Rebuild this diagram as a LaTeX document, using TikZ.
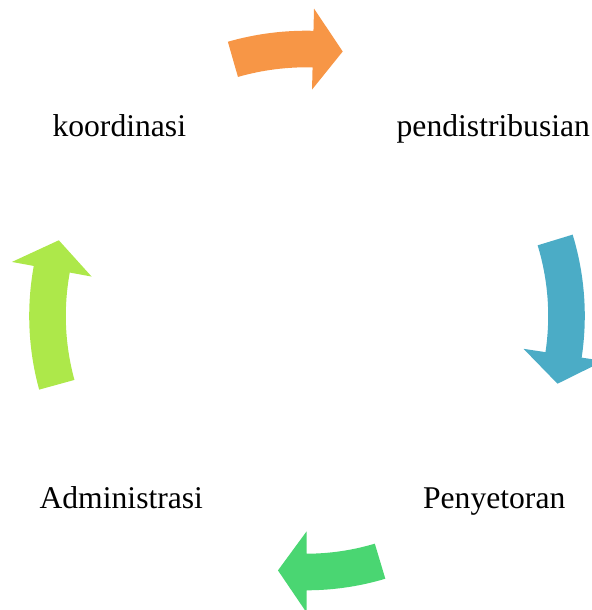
\documentclass[tikz,border=0pt]{standalone}
\usepackage{fontspec}
\setmainfont{Liberation Serif}
\definecolor{arrowOrange}{HTML}{F79646}
\definecolor{arrowBlue}{HTML}{4BACC6}
\definecolor{arrowGreen}{HTML}{4AD672}
\definecolor{arrowLime}{HTML}{ADE84A}
% curved block arrow round the centre: colour, radius, tail angle, head base angle, tip angle
\newcommand{\cyclearrow}[5]{%
	\fill[#1] (#3:{#2+18.3}) arc[start angle=#3, end angle=#4, radius={#2+18.3}]
		-- (#4:{#2+40.5}) -- (#5:#2) -- (#4:{#2-40.5}) -- (#4:{#2-18.3})
		arc[start angle=#4, end angle=#3, radius={#2-18.3}] -- cycle;}
\begin{document}
\begin{tikzpicture}[x=0.03cm, y=0.03cm, font=\fontsize{27}{32}\selectfont, line join=round]
		\useasboundingbox (0,0) rectangle (592,610);
		\coordinate (C) at (306.5,294);
		\begin{scope}[shift={(C)}]
		\cyclearrow{arrowOrange}{267}{106}{88.6}{82.2}
		\cyclearrow{arrowBlue}{260}{17}{-8.6}{-15.1}
		\cyclearrow{arrowGreen}{256}{-73.3}{-90}{-96.4}
		\cyclearrow{arrowLime}{259}{195.4}{169.6}{163}
		\end{scope}
		\node[anchor=base, inner sep=0] (koord) at (119.3,473.3) {koordinasi};
		\node[anchor=base, inner sep=0] (distr) at (493.3,473.3) {pendistribusian};
		\node[anchor=base, inner sep=0] (setor) at (494.2,101.7) {Penyetoran};
		\node[anchor=base, inner sep=0] (admin) at (121.3,101.7) {Administrasi};
		\end{tikzpicture}
\end{document}
